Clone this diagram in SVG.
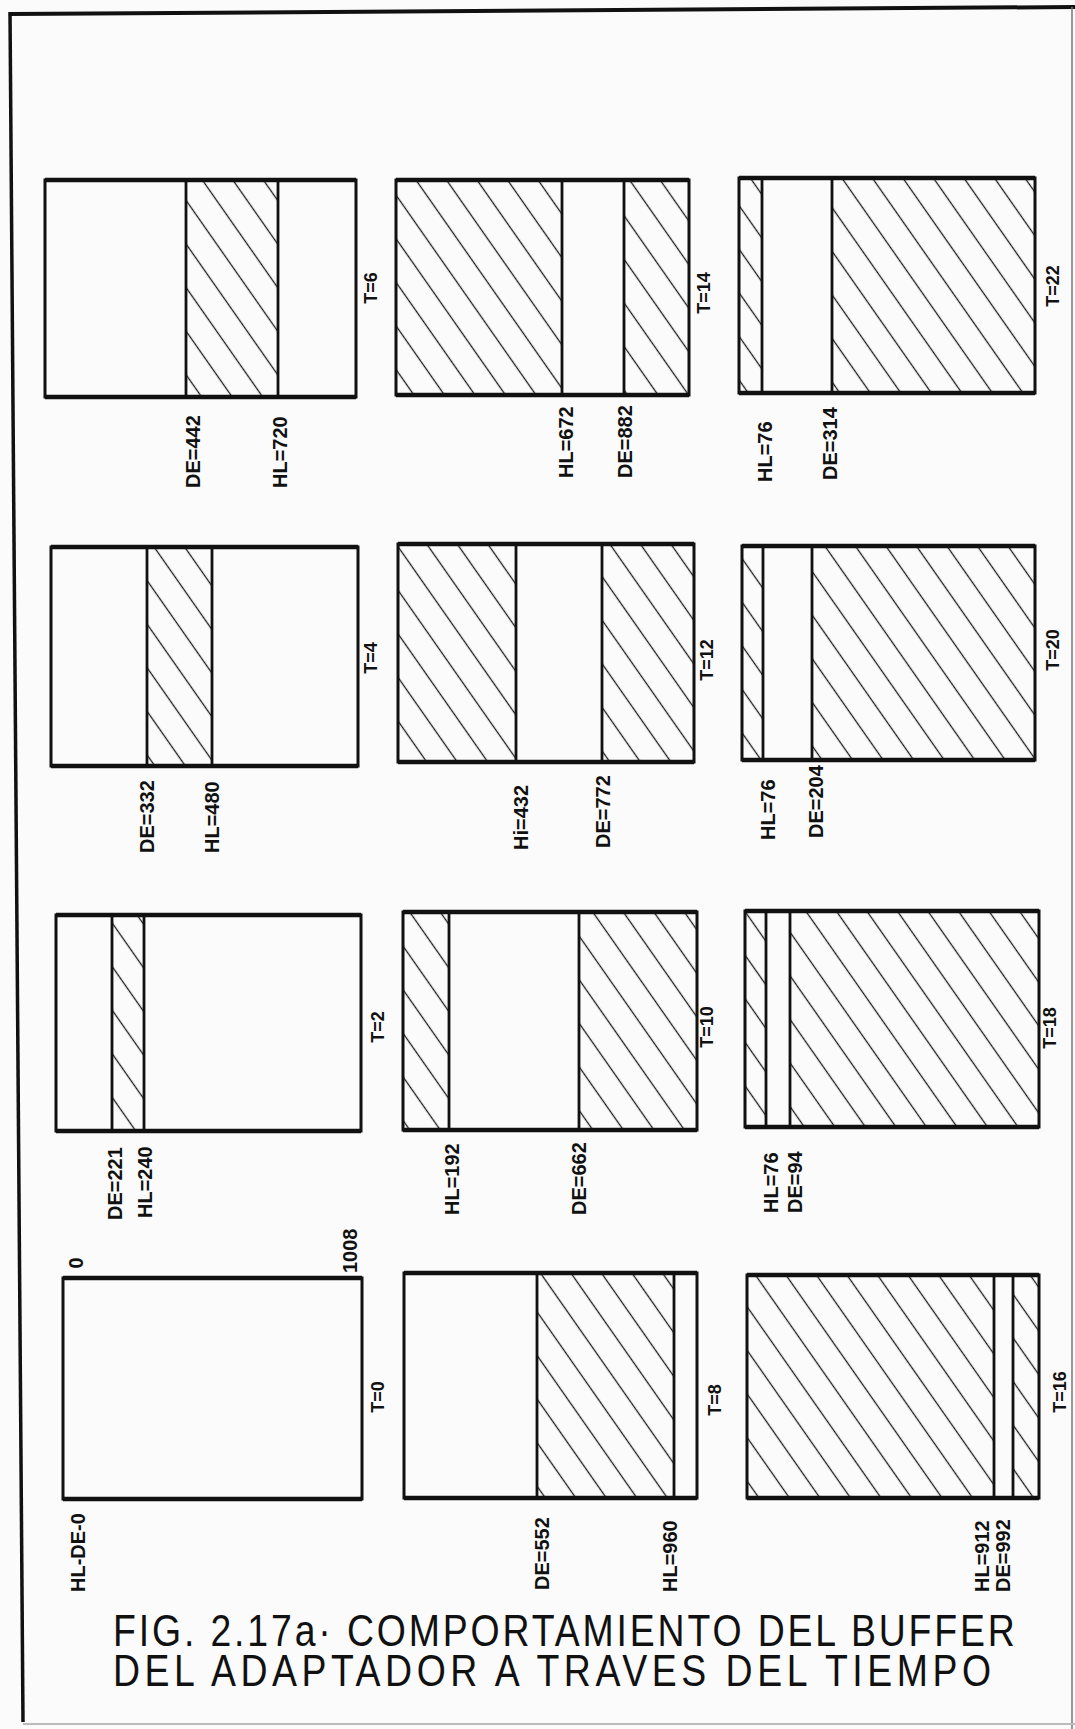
<svg xmlns="http://www.w3.org/2000/svg" width="1075" height="1729" viewBox="0 0 1075 1729">
<defs>
<pattern id="hatch" patternUnits="userSpaceOnUse" width="25" height="25" patternTransform="rotate(-35)">
<line x1="12.5" y1="-2" x2="12.5" y2="27" stroke="#1a1a1a" stroke-width="1.3"/>
</pattern>
<style>
.box{fill:none;stroke:#111;stroke-width:3}
.edge{fill:none;stroke:#111;stroke-width:4.6}
.div{stroke:#111;stroke-width:2.8}
.h{fill:url(#hatch);stroke:none}
.lb{font-family:"Liberation Sans",Arial,sans-serif;font-size:20px;font-weight:bold;fill:#111}
.t{font-family:"Liberation Sans",Arial,sans-serif;font-size:18px;font-weight:bold;fill:#111;text-anchor:middle}
.cap{font-family:"Liberation Sans",Arial,sans-serif;font-size:44px;fill:#111}
.frame{stroke:#111;fill:none}
</style>
</defs>
<rect x="0" y="0" width="1075" height="1729" fill="#fbfbfb"/>
<g id="frame">
<line class="frame" x1="10" y1="14" x2="1075" y2="7" stroke-width="4"/>
<line class="frame" x1="10" y1="12" x2="23" y2="1722" stroke-width="3.5"/>
<line x1="1072" y1="7" x2="1072" y2="1729" stroke="#777" stroke-width="1.5"/>
<line x1="23" y1="1724" x2="1075" y2="1724" stroke="#bbb" stroke-width="2"/>
</g>
<g id="connectors"/>

<!-- Row 1 -->
<g id="buf-t6">
<rect class="h" x="186" y="180" width="92" height="217"/>
<rect class="box" x="45" y="180" width="311" height="217"/>
<path class="edge" d="M45 180H356M45 397H356"/>
<line class="div" x1="186" y1="180" x2="186" y2="397"/>
<line class="div" x1="278" y1="180" x2="278" y2="397"/>
<text class="lb" transform="translate(200,488) rotate(-90)">DE=442</text>
<text class="lb" transform="translate(287,488) rotate(-90)">HL=720</text>
<text class="t" transform="translate(376.5,288) rotate(-90)">T=6</text>
</g>
<g id="buf-t14">
<rect class="h" x="396" y="180" width="166" height="215"/>
<rect class="h" x="624" y="180" width="65" height="215"/>
<rect class="box" x="396" y="180" width="293" height="215"/>
<path class="edge" d="M396 180H689M396 395H689"/>
<line class="div" x1="562" y1="180" x2="562" y2="395"/>
<line class="div" x1="624" y1="180" x2="624" y2="395"/>
<text class="lb" transform="translate(573,478) rotate(-90)">HL=672</text>
<text class="lb" transform="translate(632,478) rotate(-90)">DE=882</text>
<text class="t" transform="translate(709.5,293) rotate(-90)">T=14</text>
</g>
<g id="buf-t22">
<rect class="h" x="739" y="178" width="23" height="215"/>
<rect class="h" x="832" y="178" width="203" height="215"/>
<rect class="box" x="739" y="178" width="296" height="215"/>
<path class="edge" d="M739 178H1035M739 393H1035"/>
<line class="div" x1="762" y1="178" x2="762" y2="393"/>
<line class="div" x1="832" y1="178" x2="832" y2="393"/>
<text class="lb" transform="translate(772,482) rotate(-90)">HL=76</text>
<text class="lb" transform="translate(837,480) rotate(-90)">DE=314</text>
<text class="t" transform="translate(1058.5,286) rotate(-90)">T=22</text>
</g>

<!-- Row 2 -->
<g id="buf-t4">
<rect class="h" x="147" y="547" width="65" height="219"/>
<rect class="box" x="51" y="547" width="307" height="219"/>
<path class="edge" d="M51 547H358M51 766H358"/>
<line class="div" x1="147" y1="547" x2="147" y2="766"/>
<line class="div" x1="212" y1="547" x2="212" y2="766"/>
<text class="lb" transform="translate(154,853) rotate(-90)">DE=332</text>
<text class="lb" transform="translate(219,853) rotate(-90)">HL=480</text>
<text class="t" transform="translate(376.5,658) rotate(-90)">T=4</text>
</g>
<g id="buf-t12">
<rect class="h" x="398" y="544" width="118" height="218"/>
<rect class="h" x="602" y="544" width="92" height="218"/>
<rect class="box" x="398" y="544" width="296" height="218"/>
<path class="edge" d="M398 544H694M398 762H694"/>
<line class="div" x1="516" y1="544" x2="516" y2="762"/>
<line class="div" x1="602" y1="544" x2="602" y2="762"/>
<text class="lb" transform="translate(528,850) rotate(-90)">Hi=432</text>
<text class="lb" transform="translate(610,848) rotate(-90)">DE=772</text>
<text class="t" transform="translate(712.5,660) rotate(-90)">T=12</text>
</g>
<g id="buf-t20">
<rect class="h" x="742" y="546" width="21" height="214"/>
<rect class="h" x="812" y="546" width="223" height="214"/>
<rect class="box" x="742" y="546" width="293" height="214"/>
<path class="edge" d="M742 546H1035M742 760H1035"/>
<line class="div" x1="763" y1="546" x2="763" y2="760"/>
<line class="div" x1="812" y1="546" x2="812" y2="760"/>
<text class="lb" transform="translate(775,840) rotate(-90)">HL=76</text>
<text class="lb" transform="translate(823,838) rotate(-90)">DE=204</text>
<text class="t" transform="translate(1058.5,650) rotate(-90)">T=20</text>
</g>

<!-- Row 3 -->
<g id="buf-t2">
<rect class="h" x="112" y="915" width="32" height="216"/>
<rect class="box" x="56" y="915" width="305" height="216"/>
<path class="edge" d="M56 915H361M56 1131H361"/>
<line class="div" x1="112" y1="915" x2="112" y2="1131"/>
<line class="div" x1="144" y1="915" x2="144" y2="1131"/>
<text class="lb" transform="translate(122,1220) rotate(-90)">DE=221</text>
<text class="lb" transform="translate(152,1218) rotate(-90)">HL=240</text>
<text class="t" transform="translate(383.5,1027) rotate(-90)">T=2</text>
</g>
<g id="buf-t10">
<rect class="h" x="403" y="912" width="46" height="218"/>
<rect class="h" x="579" y="912" width="118" height="218"/>
<rect class="box" x="403" y="912" width="294" height="218"/>
<path class="edge" d="M403 912H697M403 1130H697"/>
<line class="div" x1="449" y1="912" x2="449" y2="1130"/>
<line class="div" x1="579" y1="912" x2="579" y2="1130"/>
<text class="lb" transform="translate(459,1215) rotate(-90)">HL=192</text>
<text class="lb" transform="translate(586,1215) rotate(-90)">DE=662</text>
<text class="t" transform="translate(712.5,1027) rotate(-90)">T=10</text>
</g>
<g id="buf-t18">
<rect class="h" x="745" y="911" width="21" height="216"/>
<rect class="h" x="790" y="911" width="249" height="216"/>
<rect class="box" x="745" y="911" width="294" height="216"/>
<path class="edge" d="M745 911H1039M745 1127H1039"/>
<line class="div" x1="766" y1="911" x2="766" y2="1127"/>
<line class="div" x1="790" y1="911" x2="790" y2="1127"/>
<text class="lb" transform="translate(778,1213) rotate(-90)">HL=76</text>
<text class="lb" transform="translate(802,1213) rotate(-90)">DE=94</text>
<text class="t" transform="translate(1055.5,1028) rotate(-90)">T=18</text>
</g>

<!-- Row 4 -->
<g id="buf-t0">
<rect class="box" x="63" y="1278" width="299" height="221"/>
<path class="edge" d="M63 1278H362M63 1499H362"/>
<text class="lb" text-anchor="middle" transform="translate(82.5,1263) rotate(-90)">0</text>
<text class="lb" transform="translate(357,1273) rotate(-90)">1008</text>
<text class="lb" transform="translate(85,1592) rotate(-90)">HL-DE-0</text>
<text class="t" transform="translate(383.5,1397) rotate(-90)">T=0</text>
</g>
<g id="buf-t8">
<rect class="h" x="537" y="1273" width="137" height="225"/>
<rect class="box" x="404" y="1273" width="293" height="225"/>
<path class="edge" d="M404 1273H697M404 1498H697"/>
<line class="div" x1="537" y1="1273" x2="537" y2="1498"/>
<line class="div" x1="674" y1="1273" x2="674" y2="1498"/>
<text class="lb" transform="translate(549,1590) rotate(-90)">DE=552</text>
<text class="lb" transform="translate(677,1592) rotate(-90)">HL=960</text>
<text class="t" transform="translate(720.5,1400) rotate(-90)">T=8</text>
</g>
<g id="buf-t16">
<rect class="h" x="747" y="1275" width="247" height="223"/>
<rect class="h" x="1013" y="1275" width="26" height="223"/>
<rect class="box" x="747" y="1275" width="292" height="223"/>
<path class="edge" d="M747 1275H1039M747 1498H1039"/>
<line class="div" x1="994" y1="1275" x2="994" y2="1498"/>
<line class="div" x1="1013" y1="1275" x2="1013" y2="1498"/>
<text class="lb" transform="translate(989,1592) rotate(-90)">HL=912</text>
<text class="lb" transform="translate(1010,1592) rotate(-90)">DE=992</text>
<text class="t" transform="translate(1065.5,1392) rotate(-90)">T=16</text>
</g>

<g id="caption">
<text class="cap" transform="translate(113,1646) scale(0.85,1)" textLength="1061" lengthAdjust="spacing">FIG. 2.17a· COMPORTAMIENTO DEL BUFFER</text>
<text class="cap" transform="translate(113,1686) scale(0.85,1)" textLength="1033" lengthAdjust="spacing">DEL ADAPTADOR A TRAVES DEL TIEMPO</text>
</g>
</svg>
